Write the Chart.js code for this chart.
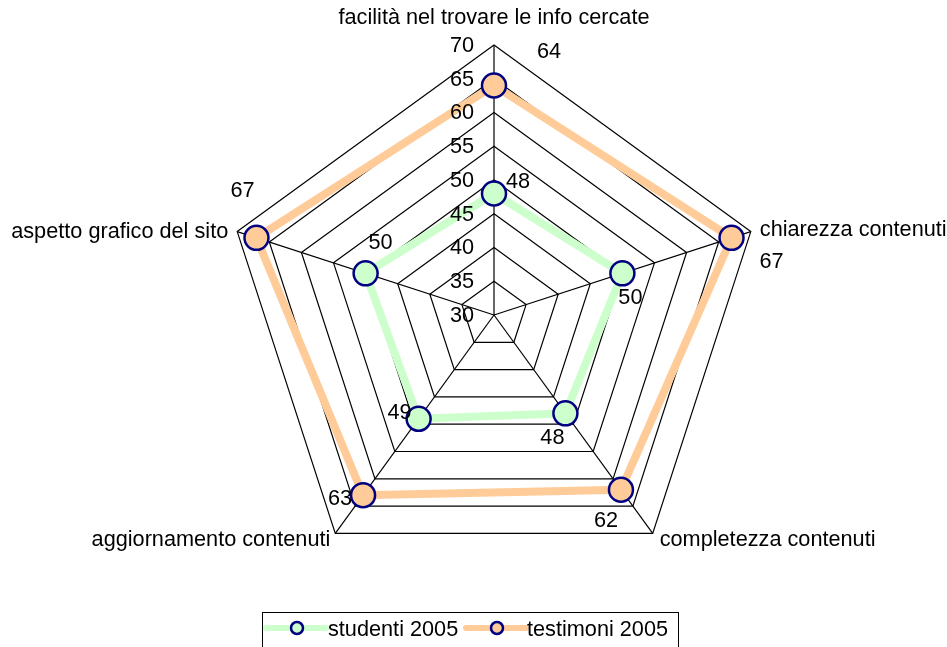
<!DOCTYPE html>
<html>
<head>
<meta charset="utf-8">
<script src="https://cdn.jsdelivr.net/npm/chart.js@4/dist/chart.umd.min.js"></script>
<style>
    body { margin: 0; background: #fff; }
</style>
</head>
<body>
<canvas id="radarChart" width="947" height="647"></canvas>
<script>
var categories = ["facilità nel trovare le info cercate", "chiarezza contenuti", "completezza contenuti", "aggiornamento contenuti", "aspetto grafico del sito"];
var studenti2005 = [48, 50, 48, 49, 50];
var testimoni2005 = [64, 67, 62, 63, 67];
var tickValues = [30, 35, 40, 45, 50, 55, 60, 65, 70];
var seriesNames = ["studenti 2005", "testimoni 2005"];

var FONT = '21.7px "Liberation Sans", Arial, sans-serif';

// where each category name sits relative to its outer vertex
var catOffsets = [[0, -27, 'center'], [9, -2, 'left'], [7, 7, 'left'], [-5, 7, 'right'], [-9, 0, 'right']];
// where each value label sits relative to its point
var labelOffsets = [
    [[24, -11], [8, 25], [-13, 25], [-19, -6], [15, -30]],
    [[55, -33], [40, 24], [-15, 31], [-23, 4], [-14, -47]]
];

var radarText = {
    id: 'radarText',
    afterDatasetsDraw: function(chart) {
        var ctx = chart.ctx;
        var scale = chart.scales.r;
        ctx.save();
        ctx.font = FONT;
        ctx.fillStyle = '#000';
        ctx.textBaseline = 'middle';

        // tick labels to the left of the top axis
        ctx.textAlign = 'right';
        tickValues.forEach(function(v) {
            var y = scale.yCenter - scale.getDistanceFromCenterForValue(v);
            ctx.fillText(String(v), scale.xCenter - 20, y + 1);
        });

        // category names
        categories.forEach(function(name, i) {
            var p = scale.getPointPosition(i, scale.drawingArea);
            var o = catOffsets[i];
            ctx.textAlign = o[2];
            ctx.fillText(name, p.x + o[0], p.y + o[1]);
        });

        // value labels
        ctx.textAlign = 'center';
        chart.data.datasets.forEach(function(ds, d) {
            var meta = chart.getDatasetMeta(d);
            meta.data.forEach(function(pt, i) {
                var o = labelOffsets[d][i];
                ctx.fillText(String(ds.data[i]), pt.x + o[0], pt.y + o[1]);
            });
        });

        // legend box
        ctx.strokeStyle = '#000';
        ctx.lineWidth = 1;
        ctx.strokeRect(262.5, 612.5, 416, 60);
        var items = [[266, 328], [466, 527]];
        chart.data.datasets.forEach(function(ds, d) {
            var x0 = items[d][0], y = 628;
            ctx.strokeStyle = ds.borderColor;
            ctx.lineWidth = 6;
            ctx.lineCap = 'round';
            ctx.beginPath();
            ctx.moveTo(x0, y);
            ctx.lineTo(x0 + 60, y);
            ctx.stroke();
            ctx.beginPath();
            ctx.arc(x0 + 31, y, 6, 0, Math.PI * 2);
            ctx.fillStyle = ds.pointBackgroundColor;
            ctx.fill();
            ctx.strokeStyle = '#000080';
            ctx.lineWidth = 2.5;
            ctx.stroke();
            ctx.fillStyle = '#000';
            ctx.textAlign = 'left';
            ctx.fillText(ds.label, items[d][1], y + 2);
        });
        ctx.restore();
    }
};

var ctx = document.getElementById('radarChart').getContext('2d');
var chart = new Chart(ctx, {
    type: 'radar',
    data: {
        labels: categories,
        datasets: [{
            label: seriesNames[0],
            data: studenti2005,
            borderColor: '#ccffcc',
            backgroundColor: 'rgba(0,0,0,0)',
            borderWidth: 8,
            fill: false,
            pointRadius: 12,
            pointBorderWidth: 2.5,
            pointBorderColor: '#000080',
            pointBackgroundColor: '#ccffcc'
        }, {
            label: seriesNames[1],
            data: testimoni2005,
            borderColor: '#ffcc99',
            backgroundColor: 'rgba(0,0,0,0)',
            borderWidth: 8,
            fill: false,
            pointRadius: 12,
            pointBorderWidth: 2.5,
            pointBorderColor: '#000080',
            pointBackgroundColor: '#ffcc99'
        }]
    },
    options: {
        responsive: false,
        animation: false,
        devicePixelRatio: 1,
        elements: { line: { tension: 0 } },
        plugins: {
            legend: { display: false },
            tooltip: { enabled: false }
        },
        scales: {
            r: {
                min: 30,
                max: 70,
                ticks: { stepSize: 5, display: false },
                grid: { color: '#000', lineWidth: 1.2, circular: false },
                angleLines: { color: '#000', lineWidth: 1.2 },
                pointLabels: { display: false },
                afterFit: function(scale) {
                    scale.xCenter = 494;
                    scale.yCenter = 315;
                    scale.drawingArea = 270;
                }
            }
        }
    },
    plugins: [radarText]
});
</script>
</body>
</html>
